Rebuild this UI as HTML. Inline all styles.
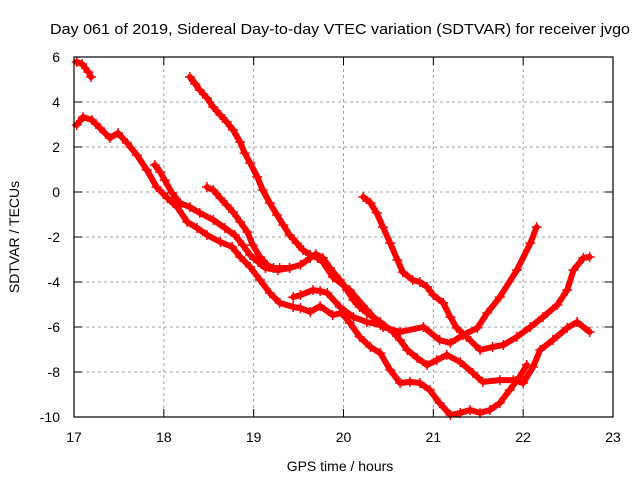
<!DOCTYPE html>
<html><head><meta charset="utf-8"><style>
body{margin:0;background:#fff}
svg{display:block;font-family:"Liberation Sans",sans-serif}
</style></head><body>
<svg id="c" width="640" height="480" xmlns="http://www.w3.org/2000/svg">
<rect width="640" height="480" fill="#fff"/>
<g id="grid"></g><g id="series"></g><g id="axes"></g>
</svg>
<script>
const xTicks=[17,18,19,20,21,22,23];
const yTicks=[6,4,2,0,-2,-4,-6,-8,-10];
const titleText="Day 061 of 2019, Sidereal Day-to-day VTEC variation (SDTVAR) for receiver jvgo";
const aH=[17.03,17.09,17.16,17.19];
const aV=[5.78,5.69,5.33,5.11];
const bH=[17.03,17.10,17.20,17.29,17.40,17.49,17.59,17.70,17.81,17.92,18.04,18.15,18.26,18.37,18.48,18.63,18.76,18.85,18.96,19.07,19.18,19.29,19.44,19.52,19.63,19.74,19.88,19.98,20.07,20.18,20.30,20.41,20.52,20.63,20.74,20.85,20.96,21.07,21.19,21.30,21.41,21.52,21.63,21.74,21.85,21.96,22.04];
const bV=[2.98,3.33,3.2,2.84,2.4,2.62,2.18,1.64,0.98,0.22,-0.27,-0.67,-1.33,-1.6,-1.91,-2.22,-2.44,-2.89,-3.33,-3.91,-4.49,-4.93,-5.11,-5.16,-5.33,-5.07,-5.47,-5.38,-5.82,-6.44,-6.89,-7.16,-7.91,-8.49,-8.44,-8.49,-8.8,-9.38,-9.91,-9.82,-9.69,-9.82,-9.69,-9.38,-8.8,-8.22,-7.69];
const cH=[17.90,17.96,18.01,18.09,18.18,18.29,18.40,18.55,18.68,18.79,18.88,18.96,19.05,19.13,19.27,19.40];
const cV=[1.2,0.89,0.53,-0.04,-0.49,-0.67,-0.93,-1.24,-1.6,-1.91,-2.36,-2.8,-3.11,-3.38,-3.47,-3.38];
const dH=[18.48,18.55,18.63,18.70,18.77,18.85,18.93,18.99,19.07,19.15,19.22,19.29,19.40,19.52,19.63,19.69,19.77,19.85,19.96,20.04,20.11,20.18,20.26,20.41,20.55,20.63,20.71,20.82,20.93,21.04,21.15,21.30,21.44,21.55,21.74,21.89,22.00,22.11,22.19,22.33,22.49,22.60,22.74];
const dV=[0.22,0.09,-0.27,-0.58,-0.89,-1.33,-1.78,-2.36,-2.89,-3.24,-3.38,-3.38,-3.38,-3.24,-2.93,-2.76,-2.93,-3.38,-3.91,-4.36,-4.8,-5.11,-5.38,-5.78,-6.22,-6.58,-7.02,-7.38,-7.69,-7.47,-7.24,-7.56,-8.04,-8.44,-8.36,-8.36,-8.49,-7.78,-7.02,-6.58,-6.04,-5.78,-6.22];
const eH=[18.29,18.35,18.40,18.48,18.55,18.63,18.70,18.77,18.85,18.90,18.96,19.04,19.10,19.18,19.26,19.33,19.40,19.48,19.55,19.63,19.71,19.77,19.88,20.07,20.26,20.44,20.63,20.89,21.07,21.19,21.33,21.49,21.60,21.74,21.93,22.08,22.15];
const eV=[5.11,4.8,4.53,4.18,3.78,3.42,3.11,2.76,2.22,1.73,1.29,0.67,0.09,-0.49,-1.02,-1.47,-1.91,-2.27,-2.58,-2.8,-2.93,-3.11,-3.78,-4.36,-5.24,-6.0,-6.22,-6.0,-6.58,-6.71,-6.36,-6.04,-5.38,-4.67,-3.47,-2.27,-1.56];
const gH=[19.44,19.52,19.66,19.74,19.82,19.96,20.11,20.26,20.41];
const gV=[-4.67,-4.58,-4.36,-4.4,-4.49,-5.11,-5.56,-5.78,-5.91];
const fH=[20.22,20.30,20.37,20.44,20.52,20.60,20.66,20.77,20.85,20.93,21.00,21.11,21.19,21.26,21.37,21.52,21.66,21.78,21.93,22.08,22.22,22.38,22.49,22.56,22.67,22.74];
const fV=[-0.22,-0.49,-0.93,-1.56,-2.27,-3.02,-3.56,-3.91,-4.0,-4.22,-4.58,-4.93,-5.56,-6.04,-6.44,-7.02,-6.89,-6.8,-6.44,-6.0,-5.56,-5.02,-4.36,-3.47,-2.93,-2.89];

const L=74,R=613,T=57,B=417,NS="http://www.w3.org/2000/svg";
const sx=h=>L+(h-17)/(23-17)*(R-L);
const sy=v=>T+(6-v)/(6-(-10))*(B-T);
function mk(tag,attrs,parent){const e=document.createElementNS(NS,tag);for(const k in attrs)e.setAttribute(k,attrs[k]);parent.appendChild(e);return e;}
const grid=document.getElementById('grid'),axes=document.getElementById('axes'),ser=document.getElementById('series');
xTicks.forEach(t=>{const x=sx(t);
 if(t>17&&t<23){const g=mk('line',{x1:x,x2:x,y1:T,y2:B,stroke:'#a0a0a0','stroke-dasharray':'3,3','stroke-width':1},grid);
 
 }
 mk('line',{x1:x,x2:x,y1:B,y2:B-8,stroke:'#000'},axes);mk('line',{x1:x,x2:x,y1:T,y2:T+8,stroke:'#000'},axes);
 const tx=mk('text',{x:x,y:B+25,'text-anchor':'middle','font-size':14,fill:'#000'},axes);tx.textContent=t;
 
 
});
yTicks.forEach(t=>{const y=sy(t);
 if(t<6&&t>-10){const g=mk('line',{x1:L,x2:R,y1:y,y2:y,stroke:'#a0a0a0','stroke-dasharray':'3,3','stroke-width':1},grid);
 
 }
 mk('line',{x1:L,x2:L+8,y1:y,y2:y,stroke:'#000'},axes);mk('line',{x1:R,x2:R-8,y1:y,y2:y,stroke:'#000'},axes);
 const tx=mk('text',{x:60,y:y+5,'text-anchor':'end','font-size':14,fill:'#000'},axes);tx.textContent=t;
 
 
});
const fr=mk('rect',{x:L,y:T,width:R-L,height:B-T,fill:'none',stroke:'#000','stroke-width':1.2},axes);


const tt=mk('text',{x:50,y:34,'font-size':15,fill:'#000',textLength:580,lengthAdjust:'spacingAndGlyphs'},axes);tt.textContent=titleText;


const xt=mk('text',{x:340,y:471,'text-anchor':'middle','font-size':14,fill:'#000'},axes);xt.textContent='GPS time / hours';


const yt=mk('text',{x:0,y:0,'text-anchor':'middle','font-size':14,fill:'#000',transform:'translate(19,237) rotate(-90)'},axes);yt.textContent='SDTVAR / TECUs';


const tracks=[[aH,aV],[bH,bV],[cH,cV],[dH,dV],[eH,eV],[gH,gV],[fH,fV]];
tracks.forEach(([H,V],i)=>{
 const pts=H.map((h,j)=>sx(h).toFixed(1)+','+sy(V[j]).toFixed(1)).join(' ');
 const pl=mk('polyline',{points:pts,fill:'none',stroke:'#ff0000','stroke-width':6,'stroke-linejoin':'round','stroke-linecap':'round'},ser);
 
 
 H.forEach((h,j)=>{const x=sx(h),y=sy(V[j]);
  const p=mk('path',{d:`M${x-5},${y}H${x+5}M${x},${y-5}V${y+5}`,stroke:'#ff0000','stroke-width':1.5},ser);
  
  
 });
});
</script>
</body></html>
